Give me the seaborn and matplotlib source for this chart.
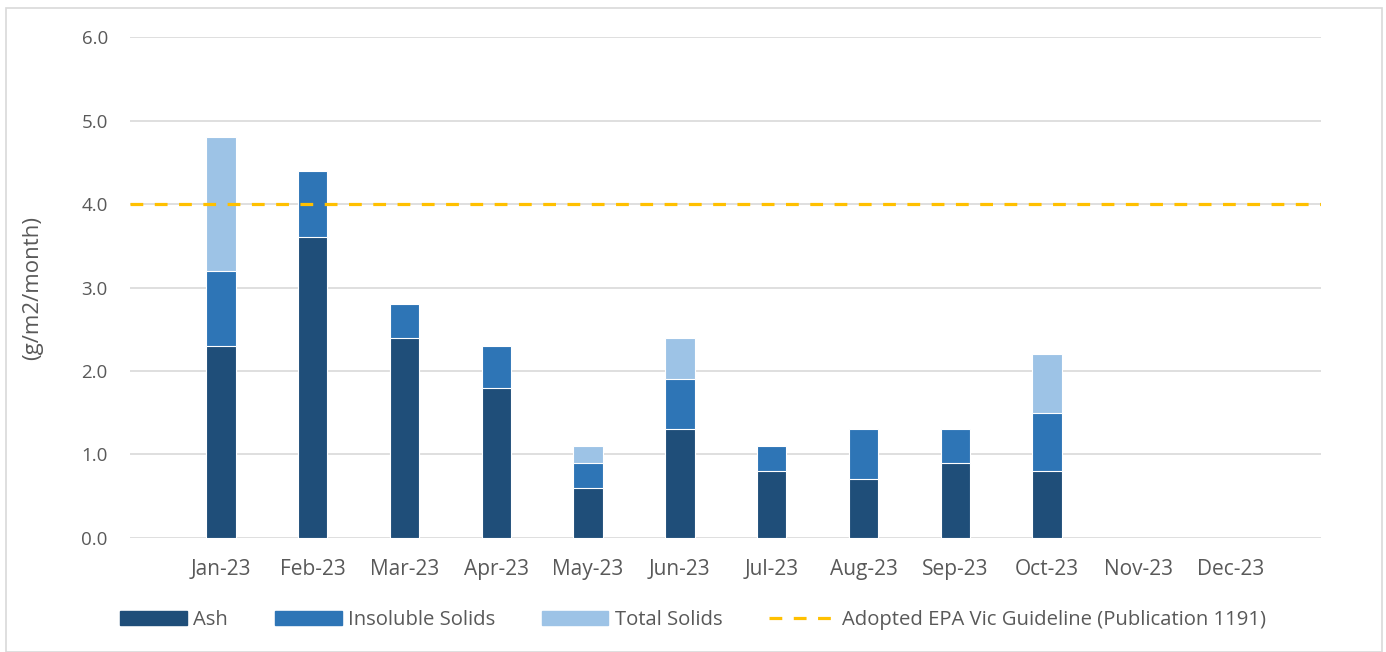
import numpy as np
import pandas as pd
import matplotlib
matplotlib.use("Agg")
import matplotlib.pyplot as plt
import seaborn as sns
from matplotlib.patches import Patch, Rectangle
from matplotlib.lines import Line2D

# data (g/m2/month)
months = ["Jan-23", "Feb-23", "Mar-23", "Apr-23", "May-23", "Jun-23",
          "Jul-23", "Aug-23", "Sep-23", "Oct-23", "Nov-23", "Dec-23"]
ash = [2.3, 3.6, 2.4, 1.8, 0.6, 1.3, 0.8, 0.7, 0.9, 0.8, np.nan, np.nan]
insoluble = [0.9, 0.8, 0.4, 0.5, 0.3, 0.6, 0.3, 0.6, 0.4, 0.7, np.nan, np.nan]
total = [1.6, 0.0, 0.0, 0.0, 0.2, 0.5, 0.0, 0.0, 0.0, 0.7, np.nan, np.nan]
guideline = 4.0

df = pd.DataFrame({"Month": months, "Ash": ash,
                   "Insoluble Solids": insoluble, "Total Solids": total})
df["top_ins"] = df["Ash"] + df["Insoluble Solids"]
df["top_tot"] = df["top_ins"] + df["Total Solids"]

c_ash = "#1F4E79"
c_ins = "#2E75B6"
c_tot = "#9DC3E6"
c_line = "#FFC000"
txt = "#595959"
dash = (0, (4, 3.6))

sns.set_theme(style="white")
plt.rcParams["font.family"] = ["Open Sans", "DejaVu Sans"]

fig = plt.figure(figsize=(13.86, 6.52), dpi=100)
ax = fig.add_axes([0.0938, 0.175, 0.859, 0.768])

# stacked look: draw cumulative tops, tallest first
for col, colr in [("top_tot", c_tot), ("top_ins", c_ins), ("Ash", c_ash)]:
    sns.barplot(data=df, x="Month", y=col, order=months, color=colr,
                width=0.32, edgecolor="white", linewidth=0.8,
                saturation=1, ax=ax, zorder=3)

ax.axhline(guideline, color=c_line, linestyle=dash, linewidth=2.3, zorder=4)

ax.set_ylim(0, 6)
ax.set_xlim(-0.99, 11.98)
ax.set_yticks(np.arange(0, 6.1, 1.0))
ax.set_yticklabels([f"{v:.1f}" for v in np.arange(0, 6.1, 1.0)])
ax.grid(axis="y", color="#D9D9D9", linewidth=1.2, zorder=0)
ax.set_axisbelow(True)
for s in ax.spines.values():
    s.set_visible(False)
ax.tick_params(axis="x", length=0, labelsize=15, colors=txt, pad=15)
ax.tick_params(axis="y", length=0, labelsize=13.5, colors=txt, pad=16)
ax.set_xlabel("")
ax.set_ylabel("(g/m2/month)", fontsize=16, color=txt)
ax.yaxis.set_label_coords(-0.073, 0.5)

handles = [Patch(color=c_ash), Patch(color=c_ins), Patch(color=c_tot),
           Line2D([0], [0], color=c_line, linestyle=dash, linewidth=2.3)]
labels = ["Ash", "Insoluble Solids", "Total Solids",
          "Adopted EPA Vic Guideline (Publication 1191)"]
leg = fig.legend(handles, labels, loc="center", bbox_to_anchor=(0.5, 0.049),
                 ncol=4, frameon=False, fontsize=14.6, handlelength=3.3,
                 handleheight=0.7, columnspacing=2.3, handletextpad=0.3)
for t in leg.get_texts():
    t.set_color(txt)

fig.patches.append(Rectangle((0.004, 0.0), 0.993, 0.988, transform=fig.transFigure,
                             fill=False, edgecolor="#D9D9D9", linewidth=1.2))

fig.savefig("out.png", dpi=100)
